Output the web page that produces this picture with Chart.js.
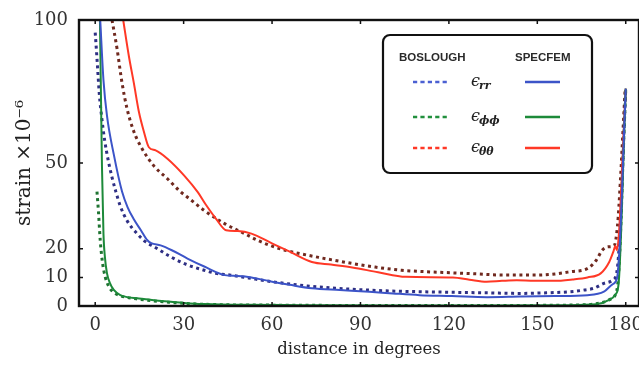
<!DOCTYPE html>
<html>
<head>
<meta charset="utf-8">
<script src="https://cdn.jsdelivr.net/npm/chart.js@4.4.0/dist/chart.umd.min.js"></script>
<style>
  html, body { margin: 0; padding: 0; background: #fff; }
</style>
</head>
<body>
<canvas id="chart" width="639" height="368"></canvas>
<script>
const xTicks = [0, 30, 60, 90, 120, 150, 180];
const yTicks = [0, 10, 20, 50, 100];

// SPECFEM (solid lines)
const specRrDeg = [1.7, 2.8, 4, 6.3, 9.1, 11, 13, 15.5, 17.7, 19, 22.2, 26, 31.3, 37, 44, 48.4, 53, 60, 66, 73.5, 83, 93, 101, 110, 121, 133, 144, 156, 167, 172.6, 175.5, 177, 178, 178.8, 179.4, 180];
const specRrVal = [100, 79, 66.5, 53, 40, 34.5, 30.5, 26.5, 23, 22, 21.2, 19.5, 16.6, 13.8, 10.8, 10.5, 10, 8.5, 7.4, 6.2, 5.6, 5, 4.4, 3.8, 3.5, 3.1, 3.3, 3.5, 3.8, 5, 7.6, 9.5, 22, 42, 60, 76];
const specPpDeg = [1.6, 2.0, 2.3, 2.8, 3.3, 4, 5, 6.3, 8.5, 11, 14.2, 20, 25.6, 31, 37, 50, 70, 100, 130, 160, 170, 174, 176.5, 177.6, 178.4, 179, 179.5, 180];
const specPpVal = [100, 70, 48.5, 25.3, 17, 11.4, 8, 5.6, 3.8, 3.1, 2.7, 2, 1.5, 1, 0.7, 0.4, 0.3, 0.2, 0.2, 0.3, 0.6, 2, 4, 8, 25, 45, 62, 76];
const specTtDeg = [9.5, 11.4, 13.1, 14.8, 16.5, 18.2, 20.5, 24.5, 30.2, 34.8, 37.5, 41, 44.4, 48.4, 53, 59.8, 66, 73.5, 80, 87.2, 96, 105.4, 121.4, 127, 132.8, 138, 143, 149, 155.6, 162, 167, 171.5, 174.4, 175.8, 176.5, 177, 177.8, 178.6, 179.3, 180];
const specTtVal = [100, 87.5, 78, 68, 61, 55.5, 54.4, 51.5, 45.6, 39.8, 35.5, 30.5, 26.5, 26.2, 25.3, 22, 19, 15.4, 14.5, 13.5, 11.8, 10.2, 10, 9.2, 8.5, 8.8, 9, 8.8, 8.8, 9.3, 10, 11.4, 15.4, 19, 21, 19.5, 27, 44, 61, 76];

// BOSLOUGH (dotted lines)
const boslRrDeg = [0, 0.7, 1.4, 2.2, 3.2, 4.4, 5.7, 7, 8.5, 11, 14.2, 17, 20, 25.6, 31, 37, 41, 46, 52, 60, 64.4, 72, 81.5, 90, 98.6, 110, 121, 133, 144, 153, 161.3, 166, 169.2, 172.6, 175.5, 177, 178, 178.8, 179.4, 180];
const boslRrVal = [95.6, 85, 74, 66, 58, 51, 45, 40, 35, 29.5, 25.3, 22.5, 20.7, 17.2, 14.5, 12.5, 11.4, 10.8, 9.8, 8.5, 7.9, 7, 6.2, 5.7, 5.3, 5, 4.8, 4.6, 4.4, 4.6, 5, 5.6, 6.2, 7.9, 9, 12, 25, 44, 61, 76];
const boslPpDeg = [0.6, 1.1, 1.7, 2.5, 3.4, 4.5, 6, 8.5, 14, 25, 37, 60, 100, 140, 165, 172, 175, 176.5, 177.5, 178.4, 179.1, 180];
const boslPpVal = [40, 33, 23, 15, 10.2, 7, 5, 3.6, 2.5, 1.3, 0.6, 0.3, 0.2, 0.2, 0.4, 1.2, 2.5, 4, 10, 30, 52, 76];
const boslTtDeg = [5.7, 7.4, 9.1, 10.8, 13.1, 15.9, 19.9, 24.5, 29.1, 31, 37, 43.9, 50.7, 55, 59.8, 64.4, 70, 75.8, 81, 87, 95, 104, 112, 121, 130, 138.5, 149.8, 156, 161.3, 167, 170, 172, 174, 176, 177.2, 178.2, 179, 179.8];
const boslTtVal = [100, 90, 78, 69, 61, 55, 49, 44.5, 39.8, 38.3, 33.4, 28.8, 25.3, 23, 21, 19.5, 18.2, 17, 16, 14.9, 13.6, 12.5, 12, 11.6, 11.2, 10.8, 10.8, 11.2, 12, 13.1, 16, 19.5, 20.7, 21, 28, 44, 60, 76];

// legend rows
const components = ['rr', 'ϕϕ', 'θθ'];
const solidColors = ['#3c54c8', '#1d8a3a', '#ff3826'];
const dottedColors = ['#2e2f84', '#1f7432', '#70291f'];
const legendDashColors = ['#4b60d2', '#22903e', '#ff3826'];

const pts = (xs, ys) => xs.map((x, i) => ({ x: x, y: ys[i] }));

const solid = (data, color) => ({ data: data, borderColor: color, borderWidth: 2 });
const dotted = (data, color) => ({ data: data, borderColor: color, borderWidth: 3, borderDash: [3, 3.6] });

const serif = "'DejaVu Serif', serif";

const framePlugin = {
  id: 'frame',
  afterDatasetsDraw(chart) {
    const { ctx, chartArea: a, scales: { x, y } } = chart;
    ctx.save();
    ctx.strokeStyle = '#111';
    ctx.lineWidth = 2.4;
    ctx.strokeRect(a.left, a.top, a.right - a.left, a.bottom - a.top);

    // inward ticks on all four sides
    ctx.lineWidth = 1.5;
    ctx.beginPath();
    xTicks.forEach(v => {
      const px = x.getPixelForValue(v);
      ctx.moveTo(px, a.bottom); ctx.lineTo(px, a.bottom - 4);
      ctx.moveTo(px, a.top); ctx.lineTo(px, a.top + 4);
    });
    yTicks.forEach(v => {
      const py = y.getPixelForValue(v);
      ctx.moveTo(a.left, py); ctx.lineTo(a.left + 4, py);
      ctx.moveTo(a.right, py); ctx.lineTo(a.right - 4, py);
    });
    ctx.stroke();

    // legend box
    const bx = 383, by = 35, bw = 209, bh = 138;
    ctx.fillStyle = '#fff';
    ctx.lineWidth = 2.2;
    ctx.beginPath();
    ctx.roundRect(bx, by, bw, bh, 7);
    ctx.fill();
    ctx.stroke();

    ctx.fillStyle = '#2a2a2a';
    ctx.textBaseline = 'middle';
    ctx.font = "bold 11.5px 'Liberation Sans', sans-serif";
    ctx.fillText('BOSLOUGH', bx + 16, by + 23);
    ctx.fillText('SPECFEM', bx + 132, by + 23);

    const rowY = [47, 82, 113];
    components.forEach((c, i) => {
      const ry = by + rowY[i];
      ctx.lineWidth = 2.5;
      ctx.strokeStyle = legendDashColors[i];
      ctx.setLineDash([4.2, 3.2]);
      ctx.beginPath();
      ctx.moveTo(bx + 30, ry); ctx.lineTo(bx + 67, ry);
      ctx.stroke();
      ctx.setLineDash([]);
      ctx.strokeStyle = solidColors[i];
      ctx.beginPath();
      ctx.moveTo(bx + 142, ry); ctx.lineTo(bx + 177, ry);
      ctx.stroke();

      ctx.fillStyle = '#222';
      ctx.font = "italic 16px " + serif;
      ctx.fillText('ϵ', bx + 88, ry);
      ctx.font = "italic bold 11px " + serif;
      ctx.fillText(c, bx + 96, ry + 4);
    });
    ctx.restore();
  }
};

new Chart(document.getElementById('chart'), {
  type: 'line',
  data: {
    datasets: [
      solid(pts(specRrDeg, specRrVal), solidColors[0]),
      solid(pts(specPpDeg, specPpVal), solidColors[1]),
      solid(pts(specTtDeg, specTtVal), solidColors[2]),
      dotted(pts(boslRrDeg, boslRrVal), dottedColors[0]),
      dotted(pts(boslPpDeg, boslPpVal), dottedColors[1]),
      dotted(pts(boslTtDeg, boslTtVal), dottedColors[2])
    ]
  },
  options: {
    responsive: false,
    animation: false,
    layout: { padding: { top: 20, right: 0 } },
    elements: {
      point: { radius: 0 },
      line: { cubicInterpolationMode: 'monotone' }
    },
    plugins: { legend: { display: false }, tooltip: { enabled: false } },
    scales: {
      x: {
        type: 'linear',
        min: -5.5,
        max: 184.5,
        afterBuildTicks: s => { s.ticks = xTicks.map(v => ({ value: v })); },
        afterFit: s => { s.height = 62; s.paddingRight = 0; },
        grid: { display: false },
        border: { display: false },
        ticks: { color: '#333', padding: 1, maxRotation: 0, font: { family: serif, size: 18 } },
        title: { display: true, text: 'distance in degrees', color: '#222', font: { family: serif, size: 16.5 }, padding: { top: 0, bottom: 8 } }
      },
      y: {
        min: 0,
        max: 100,
        afterBuildTicks: s => { s.ticks = yTicks.map(v => ({ value: v })); },
        afterFit: s => { s.width = 79; },
        grid: { display: false },
        border: { display: false },
        ticks: { color: '#333', padding: 3, font: { family: serif, size: 18 } },
        title: { display: true, text: 'strain ×10⁻⁶', color: '#222', font: { family: serif, size: 20 }, padding: { top: 13, bottom: 0 } }
      }
    }
  },
  plugins: [framePlugin]
});
</script>
</body>
</html>
